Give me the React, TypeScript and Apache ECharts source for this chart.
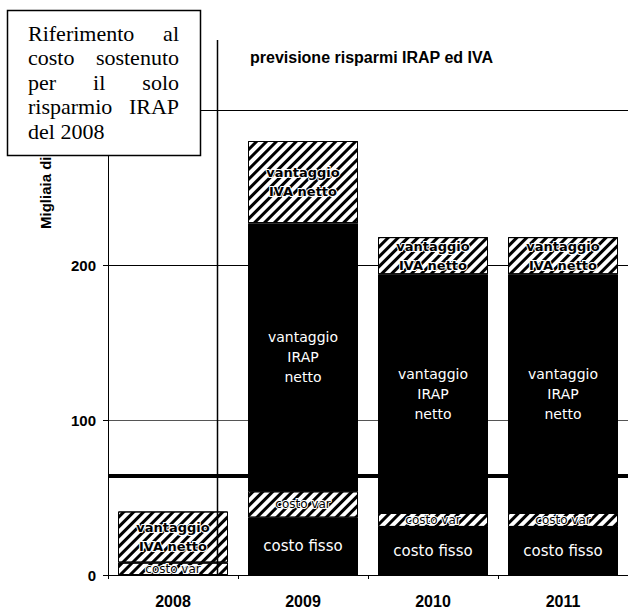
import React, { useEffect, useRef } from "react";
import * as echarts from "echarts";

const categories = ["2008", "2009", "2010", "2011"];
const costoFisso = [0, 37, 31, 31];
const costoVar = [8, 17, 9, 9];
const irapNetto = [0, 173, 154, 154];
const ivaNetto = [33, 53, 24, 24];
const riferimentoIrap2008 = 64;
const yMin = 0;
const yMax = 300;
const yStep = 100;

const boxLines = [
  ["Riferimento", "al"],
  ["costo", "sostenuto"],
  ["per", "il", "solo"],
  ["risparmio", "IRAP"],
  ["del 2008"],
];

const titleText = "previsione risparmi IRAP ed IVA";
const yAxisName = "Migliaia di €";

const hatch = {
  symbol: "rect",
  symbolSize: 1,
  color: "#000",
  dashArrayX: [1, 0],
  dashArrayY: [3, 4],
  rotation: -Math.PI / 4,
};

function measure(text: string, font: string): number {
  const c = document.createElement("canvas").getContext("2d");
  if (!c) return text.length * 9;
  c.font = font;
  return c.measureText(text).width;
}

export default function App() {
  const ref = useRef<HTMLDivElement>(null);

  useEffect(() => {
    document.body.style.margin = "0";
    if (!ref.current) return;
    const chart = echarts.init(ref.current, null, { renderer: "svg" });

    const serifFont = "22px 'Liberation Serif'";
    const boxLeft = 28;
    const boxRight = 179;
    const boxTexts: any[] = [];
    boxLines.forEach((words, i) => {
      const y = 33 + i * 24.5;
      const justify = i < boxLines.length - 1 && words.length > 1;
      if (!justify) {
        boxTexts.push({
          type: "text",
          x: boxLeft,
          y,
          style: {
            text: words.join(" "),
            font: serifFont,
            fill: "#000",
            align: "left",
            verticalAlign: "middle",
          },
        });
        return;
      }
      const widths = words.map((w) => measure(w, serifFont));
      const total = widths.reduce((a, b) => a + b, 0);
      const gap = (boxRight - boxLeft - total) / (words.length - 1);
      let x = boxLeft;
      words.forEach((w, j) => {
        boxTexts.push({
          type: "text",
          x,
          y,
          style: {
            text: w,
            font: serifFont,
            fill: "#000",
            align: "left",
            verticalAlign: "middle",
          },
        });
        x += widths[j] + gap;
      });
    });

    const labelFont = "DejaVu Sans";

    chart.setOption({
      animation: false,
      backgroundColor: "#fff",
      grid: { left: 108, top: 110, width: 524, height: 465, containLabel: false },
      xAxis: {
        type: "category",
        data: categories,
        axisLine: { show: true, lineStyle: { color: "#000", width: 1 } },
        axisTick: { show: true, length: 4, lineStyle: { color: "#000" } },
        axisLabel: {
          color: "#000",
          fontFamily: "Liberation Sans",
          fontWeight: "bold",
          fontSize: 16,
          margin: 18,
        },
      },
      yAxis: {
        type: "value",
        min: yMin,
        max: yMax,
        interval: yStep,
        axisLine: { show: true, lineStyle: { color: "#000", width: 1 } },
        axisTick: { show: true, length: 5, lineStyle: { color: "#000" } },
        axisLabel: {
          color: "#000",
          fontFamily: "Liberation Sans",
          fontWeight: "bold",
          fontSize: 15,
          margin: 12,
          formatter: (v: number) => (v >= yMax ? "" : String(v)),
        },
        splitLine: {
          show: true,
          lineStyle: { color: ["#000", "#555", "#000", "#000"], width: 1 },
        },
      },
      series: [
        {
          name: "costo fisso",
          type: "bar",
          stack: "tot",
          barWidth: 110,
          data: costoFisso,
          itemStyle: { color: "#000" },
          label: {
            show: true,
            position: "inside",
            color: "#fff",
            fontFamily: labelFont,
            fontSize: 15,
            formatter: (p: any) => (p.value ? "costo fisso" : ""),
          },
          markLine: {
            silent: true,
            symbol: "none",
            label: { show: false },
            lineStyle: { color: "#000", width: 4, type: "solid" },
            data: [{ yAxis: riferimentoIrap2008 }],
          },
        },
        {
          name: "costo var",
          type: "bar",
          stack: "tot",
          data: costoVar,
          itemStyle: { color: "#fff", borderColor: "#000", borderWidth: 1, decal: hatch },
          label: {
            show: true,
            position: "inside",
            color: "#000",
            fontFamily: labelFont,
            fontSize: 12,
            textBorderColor: "#fff",
            textBorderWidth: 2,
            formatter: (p: any) => (p.value ? "costo var" : ""),
          },
        },
        {
          name: "vantaggio IRAP netto",
          type: "bar",
          stack: "tot",
          data: irapNetto,
          itemStyle: { color: "#000" },
          label: {
            show: true,
            position: "inside",
            color: "#fff",
            fontFamily: labelFont,
            fontSize: 14,
            lineHeight: 20,
            formatter: (p: any) => (p.value ? "vantaggio\nIRAP\nnetto" : ""),
          },
        },
        {
          name: "vantaggio IVA netto",
          type: "bar",
          stack: "tot",
          data: ivaNetto,
          itemStyle: { color: "#fff", borderColor: "#000", borderWidth: 1, decal: hatch },
          label: {
            show: true,
            position: "inside",
            color: "#000",
            fontFamily: labelFont,
            fontWeight: "bold",
            fontSize: 13,
            lineHeight: 19,
            textBorderColor: "#fff",
            textBorderWidth: 2,
            formatter: (p: any) => (p.value ? "vantaggio\nIVA netto" : ""),
          },
        },
      ],
      graphic: [
        {
          type: "text",
          x: 250,
          y: 57,
          z: 10,
          style: {
            text: titleText,
            font: "bold 16px 'Liberation Sans'",
            fill: "#000",
            align: "left",
            verticalAlign: "middle",
          },
        },
        {
          type: "text",
          x: 45,
          y: 229,
          rotation: Math.PI / 2,
          z: 10,
          style: {
            text: yAxisName,
            font: "bold 15px 'Liberation Sans'",
            fill: "#000",
            align: "left",
            verticalAlign: "middle",
          },
        },
        {
          type: "line",
          z: 20,
          shape: { x1: 217.5, y1: 40, x2: 217.5, y2: 576 },
          style: { stroke: "#000", lineWidth: 1.5 },
        },
        {
          type: "group",
          z: 30,
          children: [
            {
              type: "rect",
              z: 30,
              shape: { x: 7.5, y: 10.5, width: 193, height: 145 },
              style: { fill: "#fff", stroke: "#000", lineWidth: 1.5 },
            },
            ...boxTexts.map((t) => ({ ...t, z: 31 })),
          ],
        },
      ],
    });

    return () => chart.dispose();
  }, []);

  return <div ref={ref} style={{ width: 628, height: 609 }} />;
}
